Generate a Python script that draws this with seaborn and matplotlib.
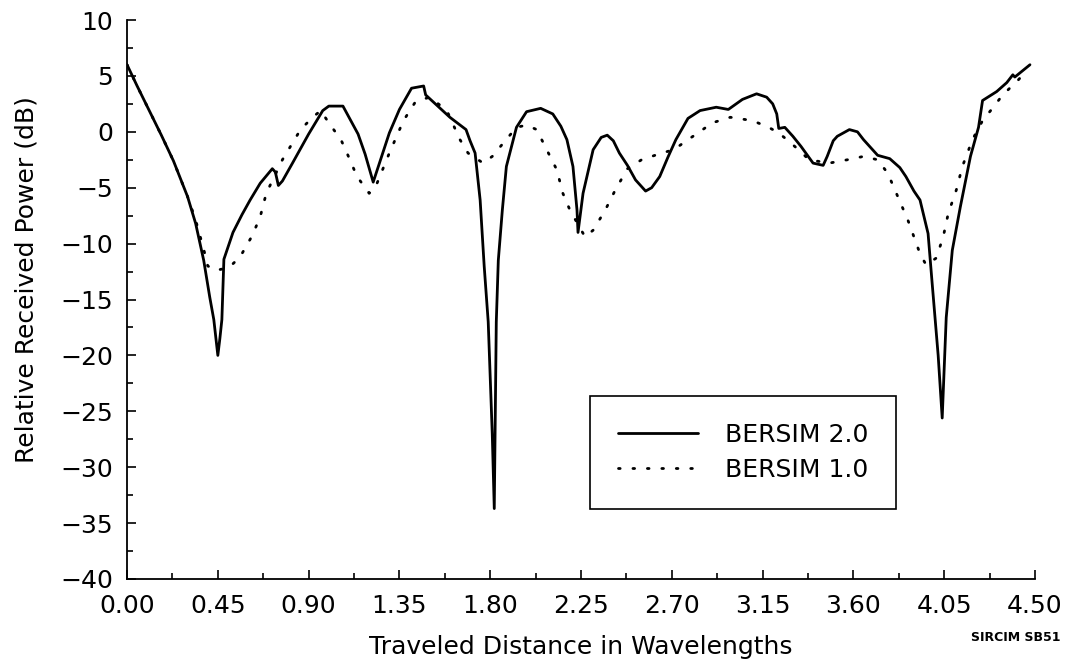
import numpy as np
import pandas as pd
import matplotlib
matplotlib.use("Agg")
import matplotlib.pyplot as plt
from matplotlib.ticker import MultipleLocator, FormatStrFormatter
import seaborn as sns

# ---- data ----
x_v2 = [0.00, 0.05, 0.11, 0.17, 0.23, 0.30, 0.34, 0.38, 0.41, 0.43, 0.45, 0.46, 0.47, 0.48,
        0.525, 0.57, 0.61, 0.66, 0.72, 0.735, 0.75, 0.77, 0.82, 0.90, 0.97, 1.00, 1.07, 1.10,
        1.145, 1.18, 1.22, 1.26, 1.30, 1.35, 1.41, 1.47, 1.48, 1.54, 1.60, 1.68, 1.70, 1.725,
        1.75, 1.77, 1.79, 1.81, 1.82, 1.83, 1.84, 1.86, 1.88, 1.93, 1.98, 2.05, 2.11, 2.15,
        2.18, 2.21, 2.23, 2.235, 2.26, 2.31, 2.35, 2.38, 2.41, 2.44, 2.48, 2.52, 2.57, 2.60,
        2.64, 2.68, 2.72, 2.78, 2.84, 2.92, 2.98, 3.05, 3.12, 3.17, 3.20, 3.22, 3.23, 3.26,
        3.30, 3.34, 3.40, 3.45, 3.47, 3.50, 3.52, 3.58, 3.62, 3.65, 3.72, 3.78, 3.83, 3.86,
        3.90, 3.93, 3.97, 3.99, 4.02, 4.04, 4.06, 4.09, 4.13, 4.18, 4.22, 4.24, 4.31, 4.36,
        4.39, 4.40, 4.475]
y_v2 = [6.0, 4.1, 1.9, -0.3, -2.6, -5.8, -8.2, -11.5, -14.8, -16.8, -20.0, -18.5, -16.8, -11.4,
        -9.0, -7.4, -6.1, -4.6, -3.3, -3.6, -4.8, -4.4, -2.8, -0.2, 1.9, 2.3, 2.3, 1.3,
        -0.2, -2.0, -4.5, -2.3, -0.1, 2.0, 3.9, 4.1, 3.3, 2.3, 1.3, 0.2, -0.8, -1.9,
        -6.1, -12.0, -17.0, -27.0, -33.7, -17.0, -11.5, -7.0, -3.1, 0.4, 1.8, 2.1, 1.6, 0.5,
        -0.7, -3.1, -7.0, -9.0, -5.5, -1.6, -0.5, -0.3, -0.8, -1.9, -3.0, -4.3, -5.3, -5.0,
        -4.0, -2.3, -0.7, 1.2, 1.9, 2.2, 2.0, 2.9, 3.4, 3.1, 2.5, 1.6, 0.3, 0.4,
        -0.4, -1.3, -2.8, -3.0, -2.2, -0.8, -0.4, 0.2, 0.0, -0.7, -2.1, -2.4, -3.2, -4.0,
        -5.3, -6.1, -9.1, -13.5, -20.0, -25.6, -16.6, -10.6, -6.7, -2.2, 0.4, 2.8, 3.6, 4.4,
        5.1, 4.9, 6.0]

x_v1 = [0.00, 0.05, 0.11, 0.17, 0.23, 0.30, 0.34, 0.38, 0.40, 0.44, 0.49, 0.525, 0.56, 0.62,
        0.66, 0.69, 0.77, 0.86, 0.92, 0.96, 1.00, 1.06, 1.09, 1.14, 1.20, 1.23, 1.30, 1.37,
        1.43, 1.50, 1.585, 1.65, 1.69, 1.765, 1.81, 1.865, 1.93, 1.98, 2.03, 2.08, 2.13, 2.16,
        2.195, 2.27, 2.31, 2.37, 2.42, 2.48, 2.55, 2.65, 2.71, 2.78, 2.83, 2.90, 2.99, 3.10,
        3.18, 3.23, 3.29, 3.34, 3.38, 3.48, 3.57, 3.65, 3.72, 3.77, 3.82, 3.87, 3.93, 3.96,
        4.01, 4.045, 4.07, 4.11, 4.14, 4.19, 4.24, 4.28, 4.34, 4.415, 4.46]
y_v1 = [6.0, 4.1, 1.9, -0.3, -2.6, -5.8, -7.9, -10.5, -12.0, -12.4, -12.2, -11.8, -11.2, -9.3,
        -7.6, -5.5, -2.5, 0.2, 1.3, 1.9, 0.8, -0.7, -1.9, -4.0, -5.5, -5.0, -1.9, 1.0,
        2.7, 3.1, 1.9, -0.7, -1.9, -2.8, -2.2, -1.0, 0.4, 0.6, 0.2, -1.6, -3.4, -5.5,
        -7.0, -9.4, -8.8, -7.0, -5.2, -3.3, -2.5, -1.9, -1.6, -0.7, -0.1, 0.8, 1.3, 1.0,
        0.4, -0.1, -1.0, -1.8, -2.5, -2.8, -2.5, -2.2, -2.5, -3.7, -5.8, -7.9, -10.9, -11.9,
        -11.3, -9.4, -7.3, -5.2, -3.1, -0.7, 1.0, 1.9, 3.3, 4.6, 5.5]

series_names = ["BERSIM 2.0", "BERSIM 1.0"]
x_ticks = [0.00, 0.45, 0.90, 1.35, 1.80, 2.25, 2.70, 3.15, 3.60, 4.05, 4.50]
y_ticks = [-40, -35, -30, -25, -20, -15, -10, -5, 0, 5, 10]

df_v2 = pd.DataFrame({"x": x_v2, "y": y_v2})
df_v1 = pd.DataFrame({"x": x_v1, "y": y_v1})

# ---- style ----
sns.set_style("ticks")
plt.rcParams["font.family"] = ["DejaVu Sans"]
plt.rcParams["axes.edgecolor"] = "black"
plt.rcParams["axes.linewidth"] = 1.3
plt.rcParams["text.color"] = "black"
plt.rcParams["axes.labelcolor"] = "black"
plt.rcParams["xtick.color"] = "black"
plt.rcParams["ytick.color"] = "black"

FS = 18

fig = plt.figure(figsize=(10.73, 6.63), dpi=100)
ax = fig.add_axes([0.1184, 0.1267, 0.8462, 0.8431])

sns.lineplot(data=df_v2, x="x", y="y", ax=ax, color="black", linewidth=2.0,
             sort=False, estimator=None, label=series_names[0])
sns.lineplot(data=df_v1, x="x", y="y", ax=ax, color="black", linewidth=2.0,
             linestyle=(0, (0.6, 4.6)), dash_capstyle="round",
             sort=False, estimator=None, label=series_names[1])

ax.set_xlim(0, 4.5)
ax.set_ylim(-40, 10)
ax.set_xticks(x_ticks)
ax.set_yticks(y_ticks)
ax.xaxis.set_major_formatter(FormatStrFormatter("%.2f"))
ax.xaxis.set_minor_locator(MultipleLocator(0.225))
ax.yaxis.set_minor_locator(MultipleLocator(2.5))
ax.tick_params(axis="both", which="major", direction="in", length=6.5, width=1.2,
               labelsize=FS, colors="black")
ax.tick_params(axis="both", which="minor", direction="in", length=4.5, width=1.2)
ax.tick_params(axis="x", which="major", pad=11)
ax.tick_params(axis="y", which="major", pad=10)
sns.despine(ax=ax)

ax.set_xlabel("Traveled Distance in Wavelengths", fontsize=FS, labelpad=12)
ax.set_ylabel("Relative Received Power (dB)", fontsize=FS)
ax.yaxis.set_label_coords(-0.097, 0.535)

leg = ax.legend(loc="lower left", bbox_to_anchor=(0.51, 0.125), borderaxespad=0,
                fontsize=FS, frameon=True, fancybox=False, shadow=False,
                handlelength=3.2, handletextpad=1.1, borderpad=1.1, labelspacing=0.42)
leg.get_frame().set_edgecolor("black")
leg.get_frame().set_linewidth(1.2)
leg.get_frame().set_alpha(1)

fig.text(0.988, 0.038, "SIRCIM SB51", ha="right", va="center", fontsize=9,
         fontweight="bold")

fig.savefig("out.png", dpi=100)
